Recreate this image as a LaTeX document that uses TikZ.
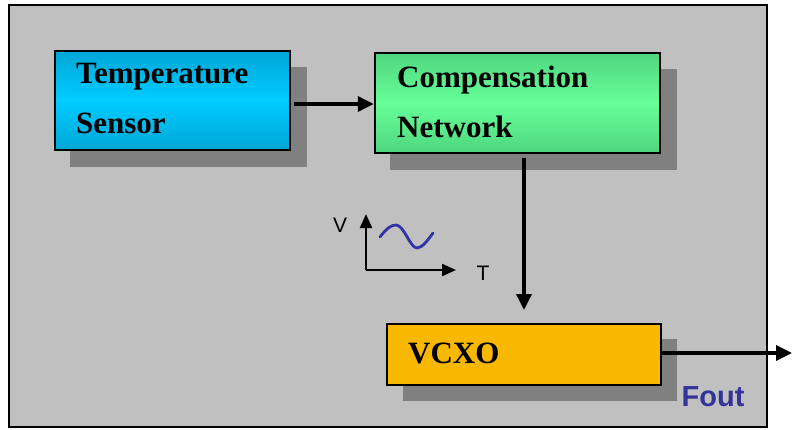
\documentclass[tikz,border=0pt]{standalone}
\usepackage{fontspec}
\setmainfont{Liberation Serif}
\setsansfont{Liberation Sans}
\usetikzlibrary{arrows.meta}
\definecolor{bggray}{HTML}{C0C0C0}
\definecolor{shadowgray}{HTML}{808080}
\definecolor{cyantop}{HTML}{00A6D6}
\definecolor{cyanmid}{HTML}{00CCFF}
\definecolor{greentop}{HTML}{4FD67F}
\definecolor{greenmid}{HTML}{66FF99}
\definecolor{vcxocol}{HTML}{F8B800}
\definecolor{foutblue}{HTML}{333399}
\definecolor{waveblue}{HTML}{3333AA}
\tikzset{
  blockbox/.style={draw=black, line width=2.5pt, rectangle, inner sep=0pt},
  blocktext/.style={anchor=base west, inner sep=0pt, font=\fontsize{31}{36}\selectfont\bfseries},
  flow/.style={line width=3.5pt, -{Triangle[length=16pt,width=15pt]}},
  axis/.style={line width=2.2pt, -{Triangle[length=14pt,width=12pt]}},
  axislabel/.style={inner sep=0pt, font=\sffamily\fontsize{21}{24}\selectfont},
  shadowbox/.style={fill=shadowgray}
}
\begin{document}
\begin{tikzpicture}[x=1pt,y=-1pt]
\useasboundingbox (0,0) rectangle (792,429);
% outer frame
\draw[fill=bggray, line width=2.2pt] (9,5) rectangle (767,427);
% shadows
\fill[shadowgray] (70,67) rectangle (307,167);
\fill[shadowgray] (390,69) rectangle (677,170);
\fill[shadowgray] (403,339) rectangle (677,401);
% boxes
\shade[top color=cyantop, bottom color=cyantop, middle color=cyanmid] (55,51) rectangle (290,150);
\node[blockbox, minimum width=235pt, minimum height=99pt] (ts) at (172.5,100.5) {};
\shade[top color=greentop, bottom color=greentop, middle color=greenmid] (375,53) rectangle (660,153);
\node[blockbox, minimum width=285pt, minimum height=100pt] (cn) at (517.5,103) {};
\node[blockbox, fill=vcxocol, minimum width=274pt, minimum height=61pt] (vc) at (524,354.5) {};
% texts
\node[blocktext] (t1) at (76,83) {Temperature};
\node[blocktext] (t2) at (76,133) {Sensor};
\node[blocktext] (c1) at (397,87) {Compensation};
\node[blocktext] (c2) at (397,137) {Network};
\node[blocktext] (v1) at (408,363) {VCXO};
\node[inner sep=0pt, text=foutblue, font=\sffamily\bfseries\fontsize{29}{32}\selectfont] (fout) at (713,397) {Fout};
% connectors
\coordinate (dn) at (524,310);
\coordinate (outend) at (792,353);
\draw[flow, shorten <=3pt] (ts.east |- 0,104) -- (cn.west |- 0,104);
\draw[flow, shorten <=4pt] (cn.south -| dn) -- (dn);
\draw[flow] (vc.east |- outend) -- (outend);
% small graph
\coordinate (org) at (366,270);
\coordinate (vtip) at (366,214);
\coordinate (ttip) at (456,270);
\draw[axis] (org) -- (vtip);
\draw[axis] (org) -- (ttip);
\node[axislabel] (vl) at (340,225) {V};
\node[axislabel] (tl) at (483,273) {T};
\draw[waveblue, line width=2.8pt, line cap=round] (380,237) .. controls (387,228) and (391,225) .. (396,225) .. controls (404,225) and (410,248) .. (417,248) .. controls (422,248) and (428,240) .. (433,233);
\end{tikzpicture}
\end{document}
